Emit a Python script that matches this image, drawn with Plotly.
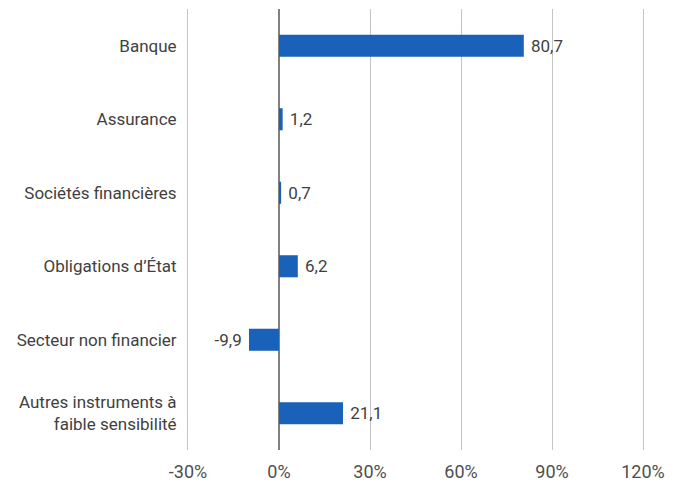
import plotly.graph_objects as go

categories = ["Banque", "Assurance", "Sociétés financières", "Obligations d’État",
              "Secteur non financier", "Autres instruments à<br>faible sensibilité"]
values = [80.7, 1.2, 0.7, 6.2, -9.9, 21.1]
labels = ["80,7", "1,2", "0,7", "6,2", "-9,9", "21,1"]
tick_vals = [-30, 0, 30, 60, 90, 120]
tick_text = ["-30%", "0%", "30%", "60%", "90%", "120%"]

font_family = "Roboto, sans-serif"
text_color = "#3f3f3f"
grid_color = "#c4c4c4"

templates = ["\u00a0%{text}" if v >= 0 else "%{text}\u00a0" for v in values]

fig = go.Figure(go.Bar(
    y=categories, x=values, orientation="h",
    marker=dict(color="#1a62b9", line=dict(width=0)),
    text=labels, texttemplate=templates, textposition="outside", cliponaxis=False,
    textfont=dict(family=font_family, size=17, color=text_color),
))

fig.update_layout(
    width=676, height=475,
    margin=dict(l=180, r=41, t=1, b=33),
    paper_bgcolor="white", plot_bgcolor="white",
    bargap=0.7, showlegend=False,
    font=dict(family=font_family, size=17, color=text_color),
)
fig.update_xaxes(
    range=[-30, 120], tickvals=tick_vals, ticktext=tick_text,
    showgrid=True, gridcolor=grid_color, gridwidth=1,
    zeroline=True, zerolinecolor="#808080", zerolinewidth=2,
    showline=False, ticks="", fixedrange=True, ticklabelstandoff=9,
    tickfont=dict(family=font_family, size=18, color="#4f4f4f"),
)
fig.update_yaxes(
    autorange="reversed", showgrid=False, zeroline=False,
    showline=True, linecolor=grid_color, linewidth=1, mirror=True,
    ticks="", ticklabelstandoff=7,
    tickfont=dict(family=font_family, size=17, color=text_color),
)

fig.write_html("out.html")
